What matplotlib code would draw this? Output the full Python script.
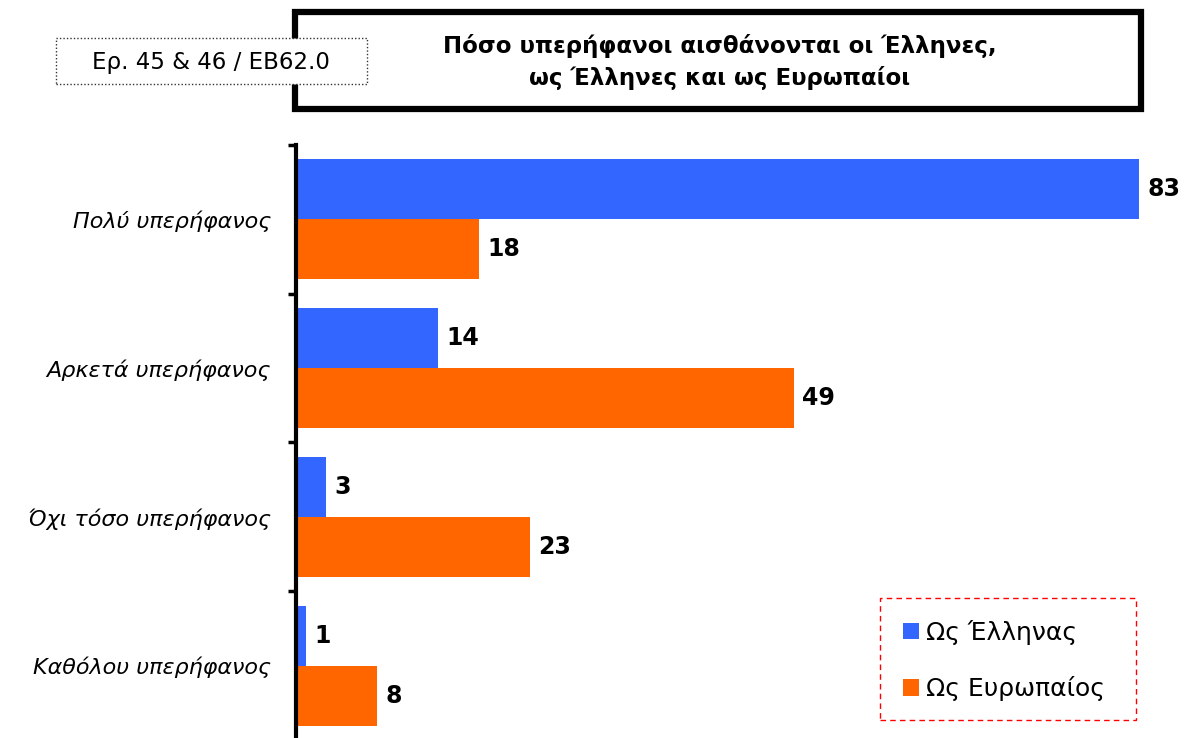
import matplotlib
matplotlib.use("Agg")
import matplotlib.pyplot as plt
from matplotlib.patches import Rectangle, Patch
import numpy as np

categories = ["Πολύ υπερήφανος", "Αρκετά υπερήφανος", "Όχι τόσο υπερήφανος", "Καθόλου υπερήφανος"]
greek_vals = [83, 14, 3, 1]
european_vals = [18, 49, 23, 8]
series_names = ["Ως Έλληνας", "Ως Ευρωπαίος"]
title = "Πόσο υπερήφανοι αισθάνονται οι Έλληνες,\nως Έλληνες και ως Ευρωπαίοι"
subtitle = "Ερ. 45 & 46 / ΕΒ62.0"

BLUE = "#3366FF"
ORANGE = "#FF6600"

W, H = 1186, 738
fig = plt.figure(figsize=(W / 100, H / 100), dpi=100)
plt.rcParams['font.family'] = ['DejaVu Sans']

def fx(px):
    return px / W

def fy(py):
    return 1 - py / H

ax_left, ax_top, ax_bottom = 296, 145, 740
px_per_unit = (1140 - 297) / 83.0
xmax = (W - ax_left) / px_per_unit
ax = fig.add_axes([fx(ax_left), fy(ax_bottom), fx(W - ax_left), (ax_bottom - ax_top) / H])

n = len(categories)
y = np.arange(n) + 0.5
bh = 60 / 148.75
ax.barh(y - bh / 2, greek_vals, height=bh, color=BLUE, label=series_names[0])
ax.barh(y + bh / 2, european_vals, height=bh, color=ORANGE, label=series_names[1])
for yi, v in zip(y, greek_vals):
    ax.text(v + 0.8, yi - bh / 2, str(v), va="center", ha="left", fontsize=17, fontweight="bold")
for yi, v in zip(y, european_vals):
    ax.text(v + 0.8, yi + bh / 2, str(v), va="center", ha="left", fontsize=17, fontweight="bold")

ax.set_xlim(0, xmax)
ax.set_ylim(n, 0)
ax.set_yticks(np.arange(n + 1))
ax.set_yticklabels([])
ax.yaxis.set_minor_locator(matplotlib.ticker.FixedLocator(y))
ax.set_yticklabels(categories, minor=True, fontsize=16, style="italic")
ax.tick_params(axis="y", which="minor", length=0, pad=18)
ax.tick_params(axis="y", which="major", length=6, width=2.5, direction="out")
ax.set_xticks([])
for s in ["top", "right", "bottom"]:
    ax.spines[s].set_visible(False)
ax.spines["left"].set_linewidth(3)
ax.patch.set_alpha(0)

# title box
tb = Rectangle((fx(295), fy(109)), fx(1141 - 295), (109 - 12) / H, transform=fig.transFigure,
               fill=True, facecolor="white", edgecolor="black", linewidth=4.5, zorder=2)
fig.patches.append(tb)
fig.text(fx(720), fy(62), title, ha="center", va="center", fontsize=16.5, fontweight="bold",
         linespacing=1.4, zorder=3)

# subtitle box
sb = Rectangle((fx(56), fy(84)), fx(367 - 56), (84 - 38) / H, transform=fig.transFigure,
               facecolor="white", edgecolor="#333333", linewidth=1.0, linestyle=(0, (1, 1.5)), zorder=4)
fig.patches.append(sb)
fig.text(fx(211), fy(63), subtitle, ha="center", va="center", fontsize=16.5, zorder=5)

# legend
lb = Rectangle((fx(880), fy(720)), fx(1136 - 880), (720 - 598) / H, transform=fig.transFigure,
               facecolor="white", edgecolor="red", linewidth=1.0, linestyle=(0, (4, 3)), zorder=4)
fig.patches.append(lb)
handles = [Patch(facecolor=BLUE), Patch(facecolor=ORANGE)]
leg = fig.legend(handles, series_names, loc="upper left", bbox_to_anchor=(fx(903), fy(620)),
                 frameon=False, fontsize=18, handlelength=0.62, handleheight=0.62,
                 labelspacing=1.25, borderpad=0, handletextpad=0.3, borderaxespad=0)
leg.set_zorder(5)

fig.savefig("out.png", dpi=100)
